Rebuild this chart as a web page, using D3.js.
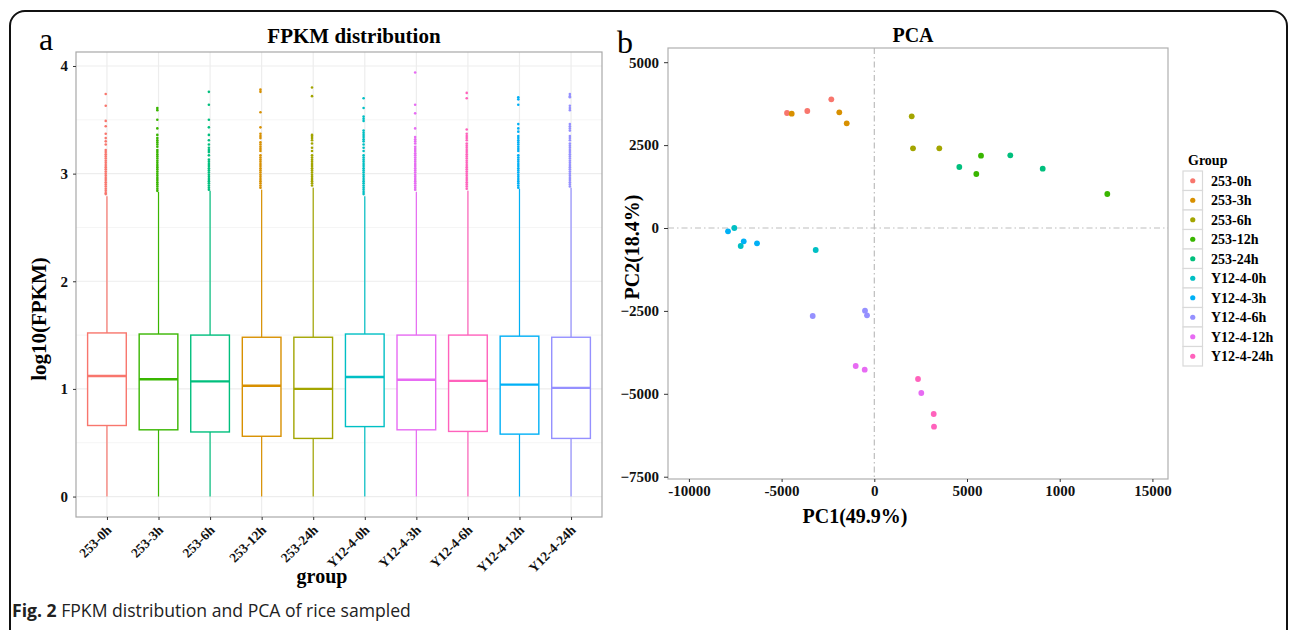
<!DOCTYPE html>
<html>
<head>
<meta charset="utf-8">
<script src="https://cdn.jsdelivr.net/npm/d3@7"></script>
<style>
  html, body { margin: 0; padding: 0; background: #fff; }
  svg { display: block; }
</style>
</head>
<body>
<svg id="chart" width="1290" height="630"></svg>
<script>
// ---------------- DATA ----------------
const groups = ["253-0h","253-3h","253-6h","253-12h","253-24h","Y12-4-0h","Y12-4-3h","Y12-4-6h","Y12-4-12h","Y12-4-24h"];
// panel a colours (hue order follows alphabetical factor levels)
const colorsA = ["#F8766D","#39B600","#00BF7D","#D89000","#A3A500","#00BFC4","#E76BF3","#FF62BC","#00B0F6","#9590FF"];
// panel b colours (legend order)
const colorsB = ["#F8766D","#D89000","#A3A500","#39B600","#00BF7D","#00BFC4","#00B0F6","#9590FF","#E76BF3","#FF62BC"];

// Panel a: boxplot statistics of log10(FPKM)
const q1          = [0.66, 0.62, 0.60, 0.56, 0.54, 0.65, 0.62, 0.605, 0.58, 0.54];
const medians     = [1.12, 1.09, 1.07, 1.03, 1.00, 1.11, 1.085, 1.075, 1.04, 1.01];
const q3          = [1.52, 1.51, 1.50, 1.48, 1.48, 1.51, 1.50, 1.50, 1.49, 1.48];
const whiskerLow  = [0, 0, 0, 0, 0, 0, 0, 0, 0, 0];
const whiskerHigh = [2.79, 2.83, 2.84, 2.85, 2.87, 2.79, 2.83, 2.84, 2.86, 2.87];
const outliers = [
  [3.74,3.63,3.49,3.44,3.37,3.33,3.30,3.27,3.22,3.20,3.18,3.16,3.14,3.12,3.10,3.08,3.06,3.04,3.02,3.00,2.98,2.96,2.94,2.92,2.90,2.88,2.86,2.84,2.82,2.81],
  [3.61,3.59,3.50,3.42,3.36,3.33,3.31,3.29,3.27,3.25,3.22,3.20,3.18,3.16,3.14,3.12,3.10,3.08,3.06,3.04,3.02,3.00,2.98,2.96,2.94,2.92,2.90,2.88,2.86,2.84],
  [3.76,3.64,3.50,3.43,3.36,3.31,3.27,3.24,3.22,3.20,3.17,3.13,3.11,3.09,3.07,3.05,3.03,3.01,2.99,2.97,2.95,2.93,2.91,2.89,2.87,2.85],
  [3.78,3.76,3.57,3.43,3.37,3.35,3.33,3.29,3.27,3.25,3.23,3.21,3.17,3.15,3.13,3.11,3.09,3.07,3.05,3.03,3.01,2.99,2.97,2.95,2.93,2.91,2.89,2.87],
  [3.80,3.72,3.36,3.35,3.33,3.31,3.28,3.24,3.21,3.17,3.15,3.13,3.11,3.09,3.07,3.05,3.03,3.01,2.99,2.97,2.95,2.93,2.91,2.89],
  [3.70,3.61,3.53,3.51,3.49,3.40,3.38,3.36,3.34,3.32,3.30,3.27,3.24,3.21,3.17,3.15,3.13,3.11,3.09,3.07,3.05,3.03,3.01,2.99,2.97,2.95,2.93,2.91,2.89,2.87,2.85,2.83,2.81],
  [3.94,3.64,3.56,3.42,3.34,3.32,3.30,3.28,3.25,3.23,3.21,3.19,3.17,3.15,3.13,3.11,3.09,3.07,3.05,3.03,3.01,2.99,2.97,2.95,2.93,2.91,2.89,2.87,2.85],
  [3.75,3.70,3.41,3.37,3.35,3.33,3.31,3.28,3.26,3.24,3.22,3.20,3.18,3.16,3.14,3.12,3.10,3.08,3.06,3.04,3.02,3.00,2.98,2.96,2.94,2.92,2.90,2.88,2.86],
  [3.71,3.69,3.64,3.46,3.42,3.39,3.35,3.33,3.31,3.29,3.27,3.25,3.23,3.21,3.17,3.15,3.13,3.11,3.09,3.07,3.05,3.03,3.01,2.99,2.97,2.95,2.93,2.91,2.89,2.87],
  [3.74,3.72,3.71,3.63,3.61,3.59,3.46,3.44,3.42,3.40,3.35,3.33,3.31,3.28,3.26,3.24,3.22,3.20,3.18,3.16,3.14,3.12,3.10,3.08,3.06,3.04,3.02,3.00,2.98,2.96,2.94,2.92,2.90,2.88]
];
const yTicksA = [0, 1, 2, 3, 4];

// Panel b: PCA scores
const pcaGroup = ["253-0h","253-0h","253-0h","253-3h","253-3h","253-3h","253-6h","253-6h","253-6h",
                  "253-12h","253-12h","253-12h","253-24h","253-24h","253-24h",
                  "Y12-4-0h","Y12-4-0h","Y12-4-0h","Y12-4-3h","Y12-4-3h","Y12-4-3h",
                  "Y12-4-6h","Y12-4-6h","Y12-4-6h","Y12-4-12h","Y12-4-12h","Y12-4-12h",
                  "Y12-4-24h","Y12-4-24h","Y12-4-24h"];
const pc1 = [-4709,-3614,-2319,-4455,-1888,-1489,2017,2087,3506,
             5755,5502,12567,4585,7335,9083,
             -7551,-3161,-7206,-7891,-7044,-6327,
             -3323,-502,-394,-1003,-518,2535,
             2357,3204,3220];
const pc2 = [3468,3528,3881,3447,3489,3157,3368,2403,2403,
             2180,1628,1025,1840,2192,1788,
             0,-663,-543,-100,-401,-461,
             -2654,-2494,-2633,-4162,-4273,-4976,
             -4554,-5609,-5992];
const xTicksB = [-10000, -5000, 0, 5000, 10000, 15000];
const xTickLabelsB = ["-10000", "-5000", "0", "5000", "1000", "15000"];
const yTicksB = [-7500, -5000, -2500, 0, 2500, 5000];

// ---------------- DRAW ----------------
const svg = d3.select("#chart");
const SERIF = '"Liberation Serif", "Times New Roman", serif';
const colorA = d3.scaleOrdinal().domain(groups).range(colorsA);
const colorB = d3.scaleOrdinal().domain(groups).range(colorsB);

// outer rounded frame
svg.append("rect").attr("x", 10).attr("y", 11).attr("width", 1277).attr("height", 700)
  .attr("rx", 15).attr("fill", "none").attr("stroke", "#111").attr("stroke-width", 2);

// ===== Panel a =====
const A = {l: 76, r: 602, t: 52, b: 517};
const xA = d3.scalePoint().domain(groups).range([A.l, A.r]).padding(0.6);
const yA = d3.scaleLinear().domain([-0.19, 4.13]).range([A.b, A.t]);

const gA = svg.append("g");
gA.append("g").selectAll("line").data([0.5, 1.5, 2.5, 3.5]).join("line")
  .attr("x1", A.l).attr("x2", A.r).attr("y1", d => yA(d)).attr("y2", d => yA(d))
  .attr("stroke", "#F5F5F5").attr("stroke-width", 1);
gA.append("g").selectAll("line").data(yTicksA).join("line")
  .attr("x1", A.l).attr("x2", A.r).attr("y1", d => yA(d)).attr("y2", d => yA(d))
  .attr("stroke", "#EDEDED").attr("stroke-width", 1.2);
gA.append("g").selectAll("line").data(groups).join("line")
  .attr("x1", d => xA(d)).attr("x2", d => xA(d)).attr("y1", A.t).attr("y2", A.b)
  .attr("stroke", "#EDEDED").attr("stroke-width", 1.2);

const boxW = xA.step() * 0.75;
const boxes = gA.append("g").selectAll("g.box").data(groups).join("g");
boxes.each(function(g, i) {
  const sel = d3.select(this);
  const cx = xA(g), c = colorA(g);
  sel.append("line").attr("x1", cx).attr("x2", cx)
    .attr("y1", yA(q3[i])).attr("y2", yA(whiskerHigh[i]))
    .attr("stroke", c).attr("stroke-width", 1.2);
  sel.append("line").attr("x1", cx).attr("x2", cx)
    .attr("y1", yA(q1[i])).attr("y2", yA(whiskerLow[i]))
    .attr("stroke", c).attr("stroke-width", 1.2);
  sel.append("rect").attr("x", cx - boxW / 2).attr("width", boxW)
    .attr("y", yA(q3[i])).attr("height", yA(q1[i]) - yA(q3[i]))
    .attr("fill", "#fff").attr("stroke", c).attr("stroke-width", 1.4);
  sel.append("line").attr("x1", cx - boxW / 2).attr("x2", cx + boxW / 2)
    .attr("y1", yA(medians[i])).attr("y2", yA(medians[i]))
    .attr("stroke", c).attr("stroke-width", 2.4);
  sel.selectAll("circle").data(outliers[i]).join("circle")
    .attr("cx", cx - 1.2).attr("cy", d => yA(d)).attr("r", 1.3)
    .attr("fill", c);
});

gA.append("rect").attr("x", A.l).attr("y", A.t).attr("width", A.r - A.l).attr("height", A.b - A.t)
  .attr("fill", "none").attr("stroke", "#A8A8A8").attr("stroke-width", 1.2);

const axYA = gA.append("g").attr("transform", `translate(${A.l},0)`)
  .call(d3.axisLeft(yA).tickValues(yTicksA).tickFormat(d3.format("d")).tickSize(3).tickPadding(5));
const axXA = gA.append("g").attr("transform", `translate(0,${A.b})`)
  .call(d3.axisBottom(xA).tickSize(3).tickPadding(4));
[axYA, axXA].forEach(ax => {
  ax.select(".domain").remove();
  ax.selectAll(".tick line").attr("stroke", "#333");
  ax.selectAll("text").attr("font-family", SERIF).attr("font-weight", "bold").attr("fill", "#111");
});
axYA.selectAll("text").attr("font-size", 15);
axXA.selectAll("text").attr("font-size", 13.5)
  .attr("text-anchor", "end").attr("dy", null).attr("y", 0)
  .attr("transform", "translate(5,14) rotate(-45)");

svg.append("text").attr("x", 354).attr("y", 43).attr("text-anchor", "middle")
  .attr("font-family", SERIF).attr("font-weight", "bold").attr("font-size", 21).text("FPKM distribution");
svg.append("text").attr("x", 39).attr("y", 50)
  .attr("font-family", SERIF).attr("font-size", 32).text("a");
svg.append("text").attr("transform", "translate(46,319) rotate(-90)").attr("text-anchor", "middle")
  .attr("font-family", SERIF).attr("font-weight", "bold").attr("font-size", 21).text("log10(FPKM)");
svg.append("text").attr("x", 322).attr("y", 583).attr("text-anchor", "middle")
  .attr("font-family", SERIF).attr("font-weight", "bold").attr("font-size", 20).text("group");

// ===== Panel b =====
const B = {l: 668, r: 1168, t: 48, b: 479};
const xB = d3.scaleLinear().domain([-11128, 15841]).range([B.l, B.r]);
const yB = d3.scaleLinear().domain([-7569, 5428]).range([B.b, B.t]);
const gB = svg.append("g");

gB.append("line").attr("x1", xB(0)).attr("x2", xB(0)).attr("y1", B.t).attr("y2", B.b)
  .attr("stroke", "#BDBDBD").attr("stroke-width", 1.2).attr("stroke-dasharray", "6,3,1.5,3");
gB.append("line").attr("x1", B.l).attr("x2", B.r).attr("y1", yB(0)).attr("y2", yB(0))
  .attr("stroke", "#BDBDBD").attr("stroke-width", 1.2).attr("stroke-dasharray", "6,3,1.5,3");

gB.append("g").selectAll("circle").data(pc1).join("circle")
  .attr("cx", d => xB(d)).attr("cy", (d, i) => yB(pc2[i])).attr("r", 2.9)
  .attr("fill", (d, i) => colorB(pcaGroup[i]));

gB.append("rect").attr("x", B.l).attr("y", B.t).attr("width", B.r - B.l).attr("height", B.b - B.t)
  .attr("fill", "none").attr("stroke", "#B0B0B0").attr("stroke-width", 1.2);

const axYB = gB.append("g").attr("transform", `translate(${B.l},0)`)
  .call(d3.axisLeft(yB).tickValues(yTicksB).tickFormat(d3.format("d")).tickSize(4).tickPadding(5));
const axXB = gB.append("g").attr("transform", `translate(0,${B.b})`)
  .call(d3.axisBottom(xB).tickValues(xTicksB).tickFormat((d, i) => xTickLabelsB[i]).tickSize(3).tickPadding(3));
[axYB, axXB].forEach(ax => {
  ax.select(".domain").remove();
  ax.selectAll(".tick line").attr("stroke", "#333");
  ax.selectAll("text").attr("font-family", SERIF).attr("font-weight", "bold")
    .attr("font-size", 15).attr("fill", "#111");
});

svg.append("text").attr("x", 913).attr("y", 42).attr("text-anchor", "middle")
  .attr("font-family", SERIF).attr("font-weight", "bold").attr("font-size", 20).text("PCA");
svg.append("text").attr("x", 617).attr("y", 53)
  .attr("font-family", SERIF).attr("font-size", 32).text("b");
svg.append("text").attr("x", 855).attr("y", 523).attr("text-anchor", "middle")
  .attr("font-family", SERIF).attr("font-weight", "bold").attr("font-size", 20).text("PC1(49.9%)");
svg.append("text").attr("transform", "translate(639,247) rotate(-90)").attr("text-anchor", "middle")
  .attr("font-family", SERIF).attr("font-weight", "bold").attr("font-size", 20).text("PC2(18.4%)");

// legend
const leg = svg.append("g").attr("transform", "translate(1183,171)");
leg.append("text").attr("x", 5).attr("y", -6)
  .attr("font-family", SERIF).attr("font-weight", "bold").attr("font-size", 14).text("Group");
const rowH = 19.5;
const items = leg.selectAll("g.item").data(groups).join("g")
  .attr("transform", (d, i) => `translate(0,${i * rowH})`);
items.append("rect").attr("width", 19.5).attr("height", rowH)
  .attr("fill", "#fff").attr("stroke", "#D9D9D9").attr("stroke-width", 1.2);
items.append("circle").attr("cx", 9.75).attr("cy", rowH / 2).attr("r", 2.6).attr("fill", d => colorB(d));
items.append("text").attr("x", 28).attr("y", rowH / 2 + 5)
  .attr("font-family", SERIF).attr("font-weight", "bold").attr("font-size", 14).text(d => d);

// caption
const cap = svg.append("text").attr("x", 12).attr("y", 617)
  .attr("font-family", '"Open Sans", "Noto Sans", sans-serif').attr("font-size", 17.6).attr("fill", "#222");
cap.append("tspan").attr("font-weight", "bold").text("Fig. 2");
cap.append("tspan").text(" FPKM distribution and PCA of rice sampled");
</script>
</body>
</html>
